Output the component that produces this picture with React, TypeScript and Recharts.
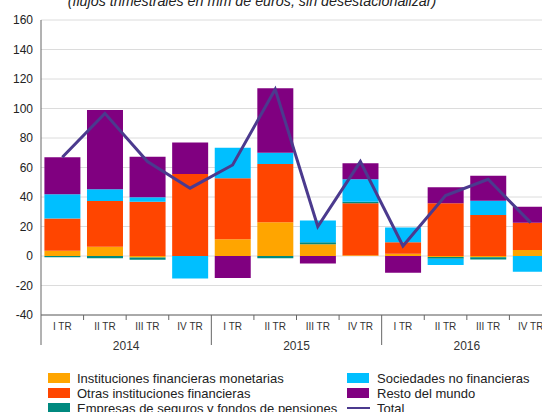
import React from "react";
import { ComposedChart, Bar, Line, XAxis, YAxis, CartesianGrid } from "recharts";

const quarters = ["I TR", "II TR", "III TR", "IV TR", "I TR", "II TR", "III TR", "IV TR", "I TR", "II TR", "III TR", "IV TR"];
const years = ["2014", "2015", "2016"];

const instituciones = [3.5, 6.3, -1, 0, 11.3, 22.8, 8, 0.5, 1.6, -0.6, -0.8, 4];
const otras = [22, 31, 36.8, 55.6, 41.4, 39.6, 0, 35.2, 7.7, 35.7, 27.8, 18.6];
const empresas = [-0.8, -1.5, -1.5, 0, 0, -1.5, 1.3, 1, 0, -1.2, -1.5, 0];
const sociedades = [16.3, 7.9, 3, -15.3, 20.7, 7.6, 14.7, 15.3, 10.1, -4.3, 9.7, -10.7];
const resto = [25.1, 53.8, 27.5, 21.4, -14.9, 43.7, -5, 10.8, -11.3, 10.9, 16.9, 10.8];
const total = [67, 96.7, 64, 46, 61.7, 113, 20, 64, 6.8, 41, 52, 22.6];

const yTicks = [-40, -20, 0, 20, 40, 60, 80, 100, 120, 140, 160];

const title = "(flujos trimestrales en mm de euros, sin desestacionalizar)";

const seriesNames = {
  inst: "Instituciones financieras monetarias",
  otras: "Otras instituciones financieras",
  emp: "Empresas de seguros y fondos de pensiones",
  soc: "Sociedades no financieras",
  resto: "Resto del mundo",
  total: "Total",
};

const colors = {
  inst: "#FFA500",
  otras: "#FF4500",
  emp: "#00897F",
  soc: "#00BFFF",
  resto: "#800080",
  total: "#4B3A8E",
};

const data = quarters.map((q, i) => ({
  key: `${years[Math.floor(i / 4)]}-${q}`,
  q,
  inst: instituciones[i],
  otras: otras[i],
  emp: empresas[i],
  soc: sociedades[i],
  resto: resto[i],
  total: total[i],
}));

const FONT = "'Liberation Sans', Arial, sans-serif";

const QuarterTick = (props: any) => {
  const { x, y, payload } = props;
  const i = payload.index;
  const w = typeof props.width === "number" && props.width > 0 ? props.width / data.length : 42.58;
  const left = x - w / 2;
  return (
    <g>
      {i % 4 === 0 ? (
        <line x1={left} x2={left} y1={y} y2={y + 30} stroke="#666" strokeWidth={1} />
      ) : (
        <line x1={left} x2={left} y1={y} y2={y + 5} stroke="#666" strokeWidth={1} />
      )}
      <text x={x} y={y + 15} textAnchor="middle" fontSize={10} fill="#333" fontFamily={FONT}>
        {quarters[i]}
      </text>
      {i % 4 === 1 && (
        <text x={x + w / 2} y={y + 35} textAnchor="middle" fontSize={12} fill="#333" fontFamily={FONT}>
          {years[Math.floor(i / 4)]}
        </text>
      )}
    </g>
  );
};

const legendCol1 = ["inst", "otras", "emp"];
const legendCol2 = ["soc", "resto", "total"];

export default function App() {
  return (
    <div
      style={{
        position: "fixed",
        left: 0,
        top: 0,
        width: 542,
        height: 412,
        overflow: "hidden",
        background: "#fff",
        fontFamily: FONT,
      }}
    >
      <ComposedChart
        width={560}
        height={360}
        data={data}
        stackOffset="sign"
        barCategoryGap="8%"
        margin={{ top: 20, right: 8, left: 0, bottom: 0 }}
      >
        <CartesianGrid vertical={false} stroke="#dcdcdc" />
        <XAxis
          dataKey="key"
          interval={0}
          height={45}
          tickLine={false}
          tickSize={0}
          tickMargin={0}
          axisLine={{ stroke: "#666" }}
          tick={<QuarterTick />}
        />
        <YAxis
          width={41}
          domain={[-40, 160]}
          ticks={yTicks}
          interval={0}
          tickLine={false}
          axisLine={{ stroke: "#666" }}
          tick={{ fontSize: 12, fill: "#222", fontFamily: FONT }}
        />
        <Bar dataKey="inst" stackId="a" fill={colors.inst} isAnimationActive={false} />
        <Bar dataKey="otras" stackId="a" fill={colors.otras} isAnimationActive={false} />
        <Bar dataKey="emp" stackId="a" fill={colors.emp} isAnimationActive={false} />
        <Bar dataKey="soc" stackId="a" fill={colors.soc} isAnimationActive={false} />
        <Bar dataKey="resto" stackId="a" fill={colors.resto} isAnimationActive={false} />
        <Line
          dataKey="total"
          type="linear"
          stroke={colors.total}
          strokeWidth={3}
          dot={false}
          activeDot={false}
          isAnimationActive={false}
        />
      </ComposedChart>
      <svg
        width={542}
        height={412}
        style={{ position: "absolute", left: 0, top: 0, pointerEvents: "none" }}
      >
        <text x={252} y={6} textAnchor="middle" fontSize={14.3} fontStyle="italic" fill="#222" fontFamily={FONT}>
          {title}
        </text>
        {legendCol1.map((k, r) => (
          <g key={k}>
            <rect x={48} y={373 + r * 15} width={22} height={10} fill={(colors as any)[k]} />
            <text x={77} y={382.5 + r * 15} fontSize={13} fill="#222" fontFamily={FONT}>
              {(seriesNames as any)[k]}
            </text>
          </g>
        ))}
        {legendCol2.map((k, r) =>
          k === "total" ? (
            <g key={k}>
              <line x1={347} x2={370} y1={378 + r * 15} y2={378 + r * 15} stroke={colors.total} strokeWidth={2} />
              <text x={377} y={382.5 + r * 15} fontSize={13} fill="#222" fontFamily={FONT}>
                {(seriesNames as any)[k]}
              </text>
            </g>
          ) : (
            <g key={k}>
              <rect x={347} y={373 + r * 15} width={22} height={10} fill={(colors as any)[k]} />
              <text x={377} y={382.5 + r * 15} fontSize={13} fill="#222" fontFamily={FONT}>
                {(seriesNames as any)[k]}
              </text>
            </g>
          )
        )}
      </svg>
    </div>
  );
}
